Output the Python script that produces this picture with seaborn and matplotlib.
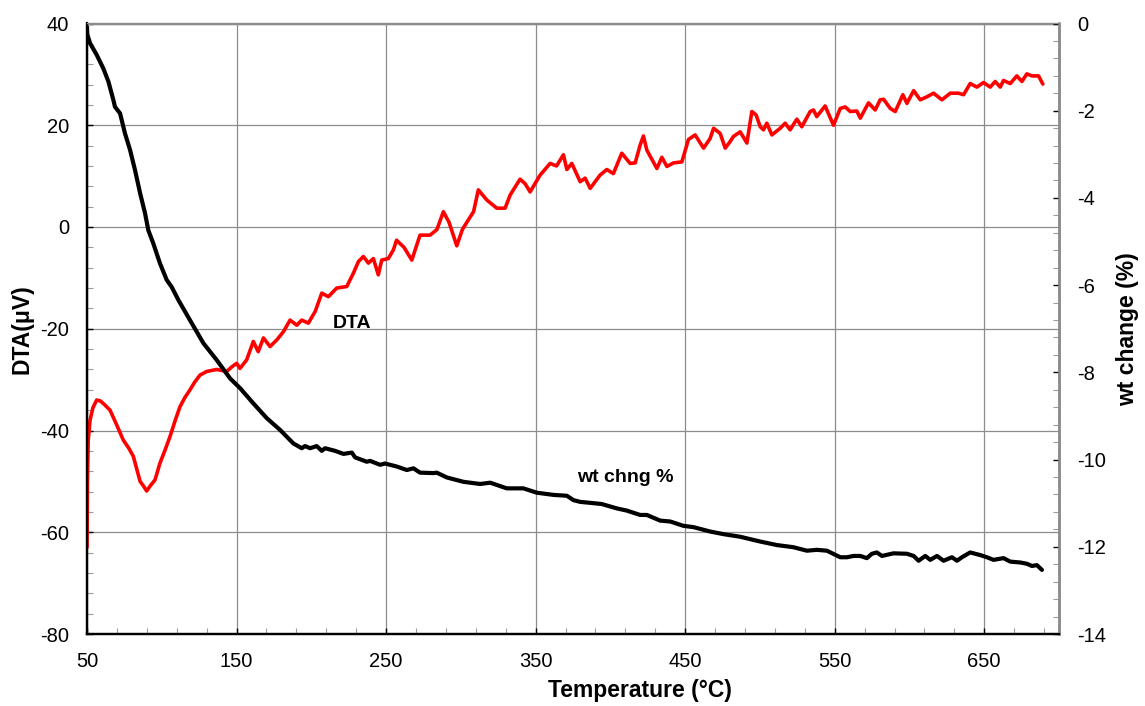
import numpy as np
import pandas as pd
import matplotlib
matplotlib.use("Agg")
import matplotlib.pyplot as plt
import seaborn as sns

# DTA signal (µV) versus temperature (°C)
dta_temp = [50.0, 50.3, 50.8, 52.0, 54.0, 56.5, 59.0, 62.0, 65.4, 70.0, 74.3, 78.0, 81.0,
            85.5, 88.0, 89.9, 92.0, 95.5, 98.8, 102.0, 105.5, 109.0, 112.2, 115.5, 118.9,
            122.0, 125.6, 130.0, 136.8, 143.4, 146.8, 150.1, 152.3, 156.8, 161.2, 164.5,
            168.0, 172.4, 176.9, 181.3, 185.8, 190.3, 193.6, 198.0, 202.6, 207.0, 211.4,
            217.0, 223.7, 228.1, 231.5, 234.8, 238.2, 241.5, 244.8, 247.1, 251.5, 254.9,
            257.0, 262.0, 267.2, 272.7, 279.4, 284.0, 288.3, 292.0, 297.3, 301.0, 305.0,
            308.5, 311.7, 317.4, 324.0, 329.6, 333.0, 339.6, 343.0, 346.3, 353.0, 359.7,
            364.0, 368.6, 370.9, 374.2, 379.8, 383.1, 386.5, 393.1, 397.6, 402.0, 407.6,
            413.2, 416.6, 419.9, 422.1, 424.4, 431.1, 434.4, 437.8, 442.2, 447.8, 452.2,
            456.7, 462.3, 466.7, 469.0, 473.4, 476.8, 480.1, 482.3, 486.8, 491.3, 494.6,
            497.5, 500.2, 502.4, 504.6, 508.0, 513.5, 516.9, 520.2, 524.7, 528.0, 533.6,
            535.8, 538.0, 543.6, 549.2, 553.7, 557.0, 560.4, 564.8, 567.1, 572.6, 577.1,
            580.4, 582.7, 587.2, 590.5, 595.6, 598.3, 602.8, 607.2, 611.7, 616.1, 621.7,
            627.3, 632.8, 636.2, 640.6, 645.1, 649.5, 654.0, 657.3, 660.7, 662.9, 667.4,
            671.8, 675.2, 678.5, 681.9, 686.3, 689.2]
dta_uv = [-63.0, -50.0, -42.0, -38.0, -35.5, -34.0, -34.2, -35.0, -36.0, -39.0, -41.9, -43.5,
          -45.1, -50.0, -51.0, -51.9, -51.0, -49.7, -46.4, -44.0, -41.2, -38.0, -35.3, -33.5,
          -32.0, -30.5, -29.1, -28.4, -28.0, -28.4, -27.5, -26.8, -27.8, -26.1, -22.5, -24.5,
          -21.8, -23.5, -22.2, -20.6, -18.3, -19.3, -18.3, -18.9, -16.6, -13.0, -13.7,
          -12.0, -11.7, -9.1, -6.8, -5.8, -7.1, -6.2, -9.4, -6.5, -6.2, -4.5,
          -2.6, -4.0, -6.5, -1.6, -1.6, -0.5, 3.0, 1.0, -3.7, -0.5, 1.4,
          3.0, 7.3, 5.3, 3.7, 3.7, 6.3, 9.4, 8.5, 6.9, 10.2, 12.5,
          12.0, 14.2, 11.3, 12.5, 8.9, 9.6, 7.6, 10.2, 11.3, 10.5, 14.5,
          12.5, 12.6, 16.1, 17.9, 15.1, 11.5, 13.7, 11.9, 12.6, 12.8, 17.2,
          18.1, 15.5, 17.4, 19.4, 18.4, 15.5, 16.8, 17.8, 18.7, 16.5, 22.7,
          22.0, 19.7, 19.1, 20.4, 18.1, 19.4, 20.4, 19.1, 21.2, 19.7, 22.7,
          23.0, 21.7, 23.8, 20.0, 23.3, 23.6, 22.7, 22.8, 21.4, 24.4, 23.0,
          25.0, 25.1, 23.3, 22.7, 26.0, 24.3, 26.8, 25.0, 25.6, 26.3, 25.0,
          26.3, 26.3, 26.0, 28.2, 27.5, 28.4, 27.5, 28.6, 27.5, 28.8, 28.2,
          29.7, 28.6, 30.1, 29.7, 29.7, 28.1]

# Weight change (%) versus temperature (°C)
wt_temp = [50.0, 50.2, 52.0, 56.5, 60.9, 64.3, 67.6, 68.7, 72.1, 75.4, 78.8, 82.1, 85.5,
           88.8, 91.0, 94.3, 98.8, 103.3, 106.6, 111.1, 120.0, 127.8, 136.8, 145.7, 152.3,
           161.2, 170.2, 179.1, 188.0, 193.6, 195.8, 199.2, 203.6, 207.0, 209.2, 215.9,
           221.5, 227.1, 229.3, 237.1, 239.3, 246.0, 249.3, 257.2, 263.9, 268.3, 272.7,
           281.6, 283.9, 290.6, 301.7, 312.9, 319.6, 330.7, 341.8, 350.8, 361.9, 370.9,
           375.3, 379.8, 388.7, 394.3, 404.3, 411.0, 419.9, 424.4, 433.3, 440.0, 448.9,
           455.6, 466.7, 475.6, 486.8, 500.2, 511.3, 522.4, 531.4, 538.1, 544.8, 553.7,
           558.2, 562.6, 567.1, 571.5, 574.9, 578.2, 581.6, 589.3, 598.3, 602.8, 606.1,
           610.6, 613.9, 618.4, 622.8, 628.4, 631.8, 635.1, 640.6, 647.3, 651.8, 656.2,
           662.9, 667.4, 674.1, 678.6, 681.9, 685.2, 688.6]
wt_pct = [-0.08, -0.25, -0.45, -0.72, -1.03, -1.33, -1.75, -1.91, -2.06, -2.52, -2.90, -3.36,
          -3.89, -4.35, -4.74, -5.04, -5.50, -5.88, -6.04, -6.34, -6.87, -7.33, -7.72, -8.14,
          -8.36, -8.71, -9.05, -9.32, -9.63, -9.74, -9.69, -9.74, -9.69, -9.80, -9.74, -9.80,
          -9.87, -9.84, -9.95, -10.05, -10.03, -10.12, -10.09, -10.16, -10.24, -10.20, -10.30,
          -10.31, -10.30, -10.41, -10.51, -10.56, -10.53, -10.66, -10.66, -10.76, -10.81,
          -10.83, -10.93, -10.97, -11.00, -11.02, -11.12, -11.17, -11.27, -11.27, -11.40,
          -11.42, -11.52, -11.55, -11.65, -11.71, -11.77, -11.88, -11.96, -12.01, -12.09,
          -12.07, -12.09, -12.24, -12.24, -12.21, -12.21, -12.26, -12.16, -12.13, -12.21,
          -12.15, -12.16, -12.21, -12.32, -12.21, -12.30, -12.21, -12.32, -12.24, -12.32,
          -12.24, -12.13, -12.19, -12.24, -12.30, -12.26, -12.34, -12.36, -12.39, -12.44,
          -12.42, -12.53]

x_ticks = [50, 150, 250, 350, 450, 550, 650]
dta_ticks = [-80, -60, -40, -20, 0, 20, 40]
wt_ticks = [-14, -12, -10, -8, -6, -4, -2, 0]

dta_df = pd.DataFrame({"Temperature": dta_temp, "DTA": dta_uv})
wt_df = pd.DataFrame({"Temperature": wt_temp, "wt": wt_pct})

sns.set_style("white")
plt.rcParams["font.family"] = ["Liberation Sans", "DejaVu Sans"]
plt.rcParams["axes.unicode_minus"] = False
plt.rcParams["text.color"] = "black"
plt.rcParams["axes.labelcolor"] = "black"
plt.rcParams["xtick.color"] = "black"
plt.rcParams["ytick.color"] = "black"

fig = plt.figure(figsize=(11.45, 7.06), dpi=100)
ax = fig.add_axes([87 / 1145, 1 - 634 / 706, 972 / 1145, 610.5 / 706])
ax2 = ax.twinx()

sns.lineplot(data=dta_df, x="Temperature", y="DTA", ax=ax, color="#ff0000",
             linewidth=2.6, sort=False, estimator=None)
sns.lineplot(data=wt_df, x="Temperature", y="wt", ax=ax2, color="black",
             linewidth=3.0, sort=False, estimator=None)

ax.set_xlim(50, 700)
ax.set_ylim(-80, 40)
ax2.set_ylim(-14, 0)

ax.set_xticks(x_ticks)
ax.set_xticks(np.arange(50, 701, 20), minor=True)
ax.set_yticks(dta_ticks)
ax.set_yticks(np.arange(-80, 41, 4), minor=True)
ax2.set_yticks(wt_ticks)
ax2.set_yticks(np.arange(-14, 0.01, 0.4), minor=True)

ax.grid(True, which="major", color="#8c8c8c", linewidth=0.9)
ax.set_axisbelow(True)

for a in (ax, ax2):
    a.tick_params(which="both", direction="in", labelsize=14.5, pad=13, labelcolor="black")
    a.tick_params(which="major", length=4, width=1, color="black")
    a.tick_params(which="minor", length=4, width=0.8, color="#9a9a9a")

ax.tick_params(axis="y", which="both", left=True, right=False)
ax.tick_params(axis="x", which="both", bottom=True, top=False)
ax2.tick_params(axis="y", which="both", left=False, right=True)

for a in (ax, ax2):
    a.spines["left"].set_color("black")
    a.spines["left"].set_linewidth(1.6)
    a.spines["bottom"].set_color("black")
    a.spines["bottom"].set_linewidth(1.6)
    a.spines["top"].set_color("#8c8c8c")
    a.spines["top"].set_linewidth(1.0)
    a.spines["right"].set_color("#8c8c8c")
    a.spines["right"].set_linewidth(1.8)

ax.set_xlabel("Temperature (°C)", fontsize=16.5, fontweight="bold")
ax.set_ylabel("DTA(μV)", fontsize=16.5, fontweight="bold")
ax2.set_ylabel("wt change (%)", fontsize=16.5, fontweight="bold")
ax.xaxis.label.set_verticalalignment("center")
ax.yaxis.label.set_verticalalignment("center")
ax2.yaxis.label.set_verticalalignment("center")
ax.xaxis.set_label_coords(0.569, -0.093)
ax.yaxis.set_label_coords(-0.067, 0.5)
ax2.yaxis.set_label_coords(1.071, 0.5)

ax.text(227.3, -18.9, "DTA", fontsize=14, fontweight="bold", ha="center", va="center")
ax.text(409.9, -49.3, "wt chng %", fontsize=14, fontweight="bold", ha="center", va="center")

fig.savefig("out.png", dpi=100)
